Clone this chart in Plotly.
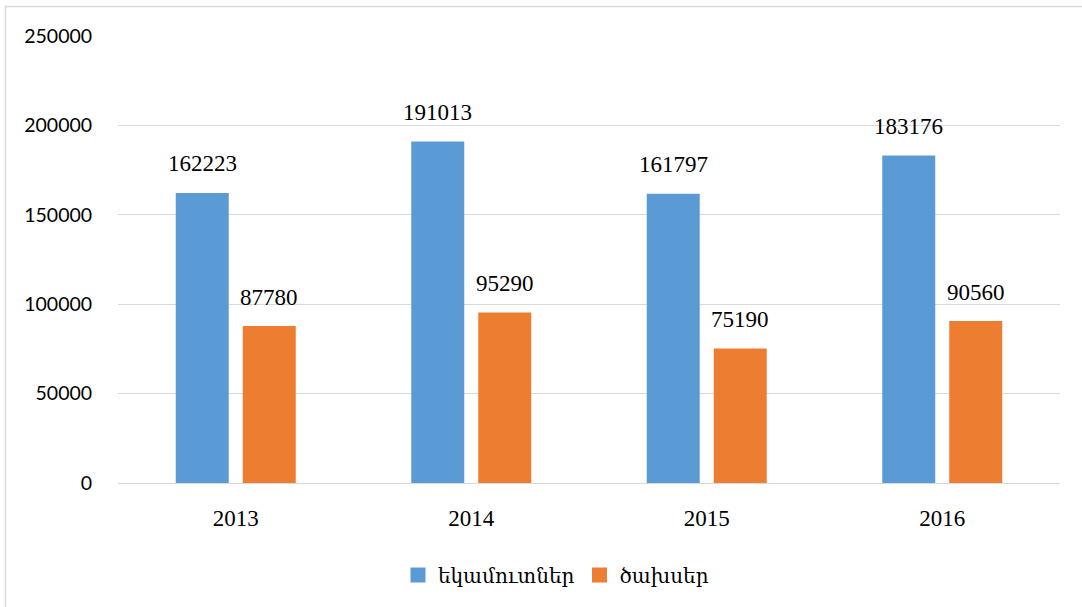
import plotly.graph_objects as go

years = ["2013", "2014", "2015", "2016"]
revenues = [162223, 191013, 161797, 183176]
expenses = [87780, 95290, 75190, 90560]
series_names = ["եկամուտներ", "ծախսեր"]
colors = ["#5B9BD5", "#ED7D31"]
y_ticks = [0, 50000, 100000, 150000, 200000, 250000]

fig = go.Figure()
for name, vals, col in zip(series_names, [revenues, expenses], colors):
    fig.add_trace(go.Bar(x=years, y=vals, name=name, marker_color=col,
                         marker_line_width=0, showlegend=False, hoverinfo="skip"))
for name, col in zip(series_names, colors):
    fig.add_trace(go.Scatter(x=[years[0]], y=[None], mode="markers", name=name,
                             marker=dict(symbol="square", size=15, color=col)))

annotations = []
for vals, shift in [(revenues, -33.5), (expenses, 33.5)]:
    for i, v in enumerate(vals):
        annotations.append(dict(x=i, y=v, xref="x", yref="y", text=str(v),
                                showarrow=False, xshift=shift, yshift=29,
                                font=dict(family="Liberation Serif", size=23, color="#000000")))

L, R, T, B = 118, 22, 36, 124
W, H = 1082, 607
pw, ph = W - L - R, H - T - B

fig.update_layout(
    width=W, height=H,
    margin=dict(l=L, r=R, t=T, b=B, autoexpand=False),
    paper_bgcolor="white", plot_bgcolor="white",
    barmode="group", bargap=0.431, bargroupgap=0.209,
    annotations=annotations,
    showlegend=True,
    legend=dict(orientation="h", x=(556 - L) / pw, xanchor="center",
                y=(H - B - 575) / ph, yanchor="middle",
                font=dict(family="DejaVu Serif", size=20, color="#000000"),
                traceorder="normal"),
    shapes=[dict(type="rect", xref="paper", yref="paper",
                 x0=(5.5 - L) / pw, x1=(1095 - L) / pw,
                 y0=(H - B - 620) / ph, y1=(H - B - 6.5) / ph,
                 line=dict(color="#D9D9D9", width=1.5), fillcolor="rgba(0,0,0,0)", layer="below")],
    xaxis=dict(type="category", categoryorder="array", categoryarray=years,
               range=[-0.5, 3.5], showline=False, ticks="outside", ticklen=14,
               tickcolor="rgba(0,0,0,0)",
               tickfont=dict(family="Liberation Serif", size=23, color="#000000")),
    yaxis=dict(range=[0, 250000], tickvals=y_ticks, ticktext=[str(t) for t in y_ticks],
               showgrid=True, gridcolor="#D9D9D9", gridwidth=1.3,
               zeroline=True, zerolinecolor="#D9D9D9", zerolinewidth=1.3,
               showline=False, ticks="outside", ticklen=21, tickcolor="rgba(0,0,0,0)",
               tickfont=dict(family="Lato", size=19.5, color="#000000")),
)

fig.write_html("out.html", post_script="document.body.style.margin='0';",
               config={"displayModeBar": False})
